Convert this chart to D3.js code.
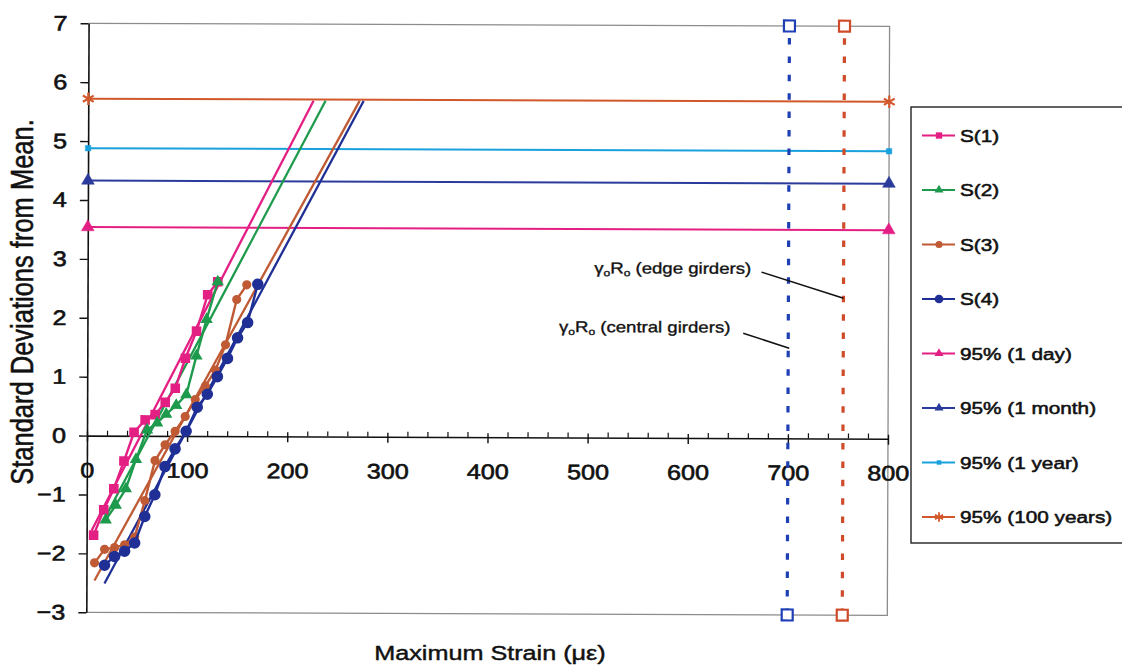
<!DOCTYPE html>
<html>
<head>
<meta charset="utf-8">
<script src="https://cdn.jsdelivr.net/npm/d3@7"></script>
<style>
  html, body { margin: 0; padding: 0; background: #fff; }
  svg { display: block; font-family: "Liberation Sans", Arial, Helvetica, sans-serif; }
</style>
</head>
<body>
<svg id="chart" width="1122" height="666"></svg>
<script>
// Ranked maximum strains (microstrain) against standard normal deviate, per girder
const s1 = [[7,-1.69],[17,-1.26],[27,-0.90],[37,-0.43],[47,0.06],[58,0.27],[68,0.36],[78,0.57],[88,0.81],[98,1.32],[109,1.78],[120,2.40],[130,2.62]];
const s2 = [[19,-1.43],[29,-1.18],[39,-0.90],[49,-0.40],[60,0.10],[70,0.22],[79,0.37],[89,0.52],[99,0.70],[109,1.36],[119,1.98],[130,2.62]];
const s3 = [[8,-2.16],[18,-1.93],[28,-1.90],[38,-1.85],[48,-1.72],[58,-1.10],[68,-0.42],[78,-0.15],[88,0.08],[98,0.33],[108,0.62],[118,0.85],[128,1.12],[138,1.55],[149,2.32],[159,2.57]];
const s4 = [[18,-2.20],[28,-2.05],[38,-1.96],[48,-1.82],[58,-1.37],[68,-1.00],[78,-0.52],[88,-0.22],[99,0.08],[110,0.49],[120,0.71],[130,1.01],[140,1.32],[150,1.67],[160,1.93],[170,2.58]];

// Linear extrapolation of each girder's upper tail
const fit1 = [[5,-1.61],[225,5.70]];
const fit2 = [[16,-1.47],[237,5.70]];
const fit3 = [[8,-2.46],[271,5.70]];
const fit4 = [[18,-2.51],[275,5.70]];

// 95% characteristic levels for each return period (standard deviations)
const levelNames = ["95% (1 day)", "95% (1 month)", "95% (1 year)", "95% (100 years)"];
const levelValues = [3.54, 4.33, 4.88, 5.72];
const levelStrainRange = [0, 800];

// Factored resistance gamma_o * R_o (microstrain)
const resistanceNames = ["central girders", "edge girders"];
const resistanceStrain = [700, 755];

const xTicks = [0, 100, 200, 300, 400, 500, 600, 700, 800];
const xMinorTicks = d3.range(0, 801, 20).filter(v => v % 100 !== 0);
const yTicks = [-3, -2, -1, 0, 1, 2, 3, 4, 5, 6, 7];

const seriesNames = ["S(1)", "S(2)", "S(3)", "S(4)"];

// ---------------------------------------------------------------
const GLYPH_WIDE = 1.2;   // printed type is set wide
const INK = "#111";
const C = {
  s1: "#e41f84", s2: "#1d9a4c", s3: "#bf5a34", s4: "#1f2f95",
  day: "#e41f84", month: "#2b3b9b", year: "#19a1dd", century: "#d2572b",
  edgeLimit: "#cf4b2a", centralLimit: "#1f3fb5"
};

const svg = d3.select("#chart");
const x = d3.scaleLinear().domain([0, 800]).range([87, 888]);
const y = d3.scaleLinear().domain([-3, 7]).range([612.3, 23.3]);

// plotting area sits with a slight clockwise tilt
const plot = svg.append("g")
  .attr("transform", `rotate(0.22,${x(0)},${y(0)})`);

function heavy(sel, w) {
  return sel.attr("stroke", INK).attr("stroke-width", w).attr("paint-order", "stroke")
    .attr("stroke-linejoin", "round");
}

function wideText(parent, str, px, py, size, anchor, rot, weight) {
  const t = parent.append("text")
    .attr("transform", `translate(${px},${py}) scale(${GLYPH_WIDE},1)` + (rot ? ` rotate(${rot})` : ""))
    .attr("text-anchor", anchor || "start")
    .attr("font-size", size)
    .attr("fill", INK)
    .text(str);
  return heavy(t, weight || 0.4);
}

// frame (top, right, bottom)
plot.append("path")
  .attr("d", `M${x(0)},${y(7)}H${x(800)}V${y(-3)}H${x(0)}`)
  .attr("fill", "none").attr("stroke", "#8c8c8c").attr("stroke-width", 1.3);

// y axis
const yAxis = plot.append("g")
  .attr("transform", `translate(${x(0)},0)`)
  .call(d3.axisLeft(y).tickValues(yTicks).tickSize(8).tickSizeOuter(0).tickPadding(9.5)
        .tickFormat(d3.format("d")));
yAxis.select(".domain").attr("stroke", INK).attr("stroke-width", 1.6);
yAxis.selectAll(".tick line").attr("stroke", INK).attr("stroke-width", 1.4);
heavy(yAxis.selectAll(".tick text")
  .attr("font-size", 21).attr("fill", INK)
  .attr("font-family", "Liberation Sans, Arial, sans-serif")
  .attr("transform", `scale(${GLYPH_WIDE},1)`), 0.6);

// x axis drawn through zero
const xMinor = plot.append("g")
  .attr("transform", `translate(0,${y(0)})`)
  .call(d3.axisBottom(x).tickValues(xMinorTicks).tickSize(-5).tickFormat(""));
xMinor.select(".domain").remove();
xMinor.selectAll(".tick line").attr("stroke", INK).attr("stroke-width", 1.2);

const xAxis = plot.append("g")
  .attr("transform", `translate(0,${y(0)})`)
  .call(d3.axisBottom(x).tickValues(xTicks).tickSize(6).tickSizeOuter(0).tickPadding(21)
        .tickFormat(d3.format("d")));
xAxis.select(".domain").attr("stroke", INK).attr("stroke-width", 1.6);
xAxis.selectAll(".tick line").attr("y1", -4).attr("stroke", INK).attr("stroke-width", 1.4);
heavy(xAxis.selectAll(".tick text")
  .attr("font-size", 21).attr("fill", INK)
  .attr("font-family", "Liberation Sans, Arial, sans-serif")
  .attr("transform", `scale(${GLYPH_WIDE},1)`)
  .attr("x", 0), 0.6);

const line = d3.line().x(d => x(d[0])).y(d => y(d[1]));

// 95% return period levels
const levelColors = [C.day, C.month, C.year, C.century];
const levelSymbols = [d3.symbolTriangle, d3.symbolTriangle, d3.symbolSquare, d3.symbolAsterisk];
const levelSizes = [70, 70, 30, 110];
levelValues.forEach((v, i) => {
  const pts = levelStrainRange.map(s => [s, v]);
  plot.append("path").attr("d", line(pts))
    .attr("fill", "none").attr("stroke", levelColors[i]).attr("stroke-width", 2);
  pts.forEach(p => {
    const isStroke = levelSymbols[i] === d3.symbolAsterisk;
    plot.append("path")
      .attr("transform", `translate(${x(p[0])},${y(p[1])})`)
      .attr("d", d3.symbol(levelSymbols[i], levelSizes[i])())
      .attr("fill", isStroke ? "none" : levelColors[i])
      .attr("stroke", levelColors[i]).attr("stroke-width", isStroke ? 2.2 : 0.5);
  });
});

// factored resistance limits
const limitColors = [C.centralLimit, C.edgeLimit];
resistanceStrain.forEach((s, i) => {
  plot.append("line")
    .attr("x1", x(s)).attr("x2", x(s)).attr("y1", y(7)).attr("y2", y(-3))
    .attr("stroke", limitColors[i]).attr("stroke-width", 3.2)
    .attr("stroke-dasharray", "6.5 11.9").attr("stroke-dashoffset", -12);
  [7, -3].forEach(v => {
    plot.append("rect")
      .attr("x", x(s) - 5.5).attr("y", y(v) - 5.5).attr("width", 11).attr("height", 11)
      .attr("fill", "#fff").attr("stroke", limitColors[i]).attr("stroke-width", 2.2);
  });
});

// girder series: trend extrapolation, then the ranked data
const series = [
  { data: s1, fit: fit1, color: C.s1, sym: d3.symbolSquare, size: 92 },
  { data: s2, fit: fit2, color: C.s2, sym: d3.symbolTriangle, size: 66 },
  { data: s3, fit: fit3, color: C.s3, sym: d3.symbolCircle, size: 66 },
  { data: s4, fit: fit4, color: C.s4, sym: d3.symbolCircle, size: 105 }
];
series.forEach(s => {
  plot.append("path").attr("d", line(s.fit))
    .attr("fill", "none").attr("stroke", s.color).attr("stroke-width", 2.3);
});
series.forEach(s => {
  plot.append("path").attr("d", line(s.data))
    .attr("fill", "none").attr("stroke", s.color).attr("stroke-width", 2.4);
  plot.selectAll(null).data(s.data).enter().append("path")
    .attr("transform", d => `translate(${x(d[0])},${y(d[1])})`)
    .attr("d", d3.symbol(s.sym, s.size)())
    .attr("fill", s.color);
});

// annotations for the resistance lines
function gammaLabel(px, py, rest) {
  const t = plot.append("text")
    .attr("transform", `translate(${px},${py}) scale(${GLYPH_WIDE},1)`)
    .attr("font-size", 15.5).attr("fill", INK);
  heavy(t, 0.35);
  t.append("tspan").text("γ");
  t.append("tspan").attr("font-size", 10).attr("dy", 3).text("o");
  t.append("tspan").attr("dy", -3).text("R");
  t.append("tspan").attr("font-size", 10).attr("dy", 3).text("o");
  t.append("tspan").attr("dy", -3).text(" (" + rest + ")");
}
gammaLabel(x(506), y(2.79), resistanceNames[1]);
gammaLabel(x(471), y(1.79), resistanceNames[0]);
plot.append("line")
  .attr("x1", x(673)).attr("y1", y(2.82)).attr("x2", x(755)).attr("y2", y(2.38))
  .attr("stroke", INK).attr("stroke-width", 1.5);
plot.append("line")
  .attr("x1", x(655)).attr("y1", y(1.78)).attr("x2", x(701)).attr("y2", y(1.53))
  .attr("stroke", INK).attr("stroke-width", 1.5);

// axis titles
wideText(svg, "Maximum Strain (με)", 490, 660, 21, "middle", 0, 0.45);
wideText(svg, "Standard Deviations from Mean.", 33, 302, 25.5, "middle", -90, 0.45);

// legend
const legend = svg.append("g");
legend.append("rect")
  .attr("x", 911).attr("y", 107).attr("width", 212).attr("height", 436)
  .attr("fill", "#fff").attr("stroke", "#222").attr("stroke-width", 1.4);
const legendItems = [
  { name: seriesNames[0], color: C.s1, sym: d3.symbolSquare, size: 40 },
  { name: seriesNames[1], color: C.s2, sym: d3.symbolTriangle, size: 35 },
  { name: seriesNames[2], color: C.s3, sym: d3.symbolCircle, size: 40 },
  { name: seriesNames[3], color: C.s4, sym: d3.symbolCircle, size: 60 },
  { name: levelNames[0], color: C.day, sym: d3.symbolTriangle, size: 35 },
  { name: levelNames[1], color: C.month, sym: d3.symbolTriangle, size: 35 },
  { name: levelNames[2], color: C.year, sym: d3.symbolSquare, size: 20 },
  { name: levelNames[3], color: C.century, sym: d3.symbolAsterisk, size: 60, stroke: true }
];
legendItems.forEach((it, i) => {
  const cy = 135.5 + i * 54.5;
  legend.append("line").attr("x1", 922).attr("x2", 955).attr("y1", cy).attr("y2", cy)
    .attr("stroke", it.color).attr("stroke-width", 2);
  legend.append("path")
    .attr("transform", `translate(939,${cy})`)
    .attr("d", d3.symbol(it.sym, it.size)())
    .attr("fill", it.stroke ? "none" : it.color)
    .attr("stroke", it.color).attr("stroke-width", it.stroke ? 1.8 : 0);
  wideText(legend, it.name, 960, cy + 6.2, 17.3, "start", 0, 0.55);
});
</script>
</body>
</html>
